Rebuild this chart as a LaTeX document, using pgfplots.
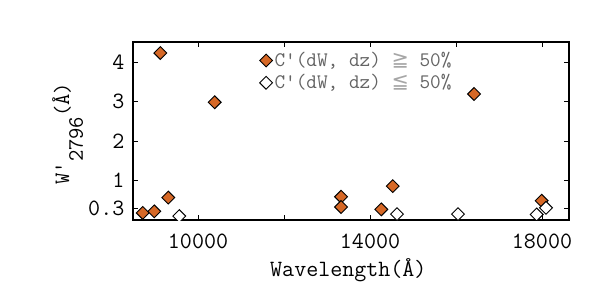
\documentclass[border=0pt]{standalone}
\usepackage{fontspec}
\newfontfamily\dejavu{DejaVu Sans}
\usepackage{pgfplots}
\pgfplotsset{compat=1.18}
\definecolor{orng}{RGB}{214,104,38}
\definecolor{legtext}{RGB}{100,100,100}
\begin{document}
\begin{tikzpicture}
\path[use as bounding box] (0,0) rectangle (456.75pt,228.75pt);
\begin{axis}[
  at={(99.75pt,63.75pt)}, anchor=south west,
  scale only axis, width=327pt, height=133.5pt,
  xmin=8488, xmax=18628, ymin=0, ymax=4.52,
  xtick={10000,14000,18000}, minor xtick={12000,16000},
  ytick={0.3,1,2,3,4},
  yticklabels={0.3,1,2,3,4},
  xticklabels={10000,14000,18000},
  scaled ticks=false,
  tick align=inside, major tick length=4pt, minor tick length=4pt,
  tick style={black, line width=0.6pt},
  axis line style={line width=0.8pt},
  /pgf/number format/assume math mode=true,
  tick label style={font=\ttfamily\fontsize{17.5}{19}\selectfont},
  x tick label style={yshift=-7pt},
  y tick label style={xshift=-3pt},
  xlabel={Wavelength(Å)},
  ylabel={W\textquotesingle\raisebox{-0.62em}{2796}(Å)},
  label style={font=\ttfamily\fontsize{17.5}{19}\selectfont},
  x label style={at={(axis description cs:0.5,0)}, anchor=center, yshift=-37.5pt, xshift=-2pt},
  y label style={at={(axis description cs:0,0.5)}, anchor=center, yshift=49pt, xshift=-2pt, font=\ttfamily\fontsize{16.5}{19}\selectfont},
  clip marker paths=true,
  legend style={draw=none, fill=none, at={(axis description cs:0.29,0.955)}, anchor=north west,
    font=\ttfamily\fontsize{15.5}{17}\selectfont, text=legtext, row sep=1.5pt, inner sep=0pt,
    nodes={inner sep=1.5pt}},
  legend cell align=left,
]
\addplot[only marks, mark=square*, mark size=3.4pt, mark options={rotate=45, fill=orng, draw=black, line width=0.7pt}]
coordinates {
(8714,0.18) (8984,0.22) (9123,4.24) (9309,0.57) (10388,2.99)
(13326,0.59) (13326,0.33) (14263,0.27) (14528,0.86) (16419,3.20) (17993,0.49)
};
\addlegendentry{C\textquotesingle(dW, dz) {\dejavu\color{gray!70}≧} 50\%}
\addplot[only marks, mark=square*, mark size=3.4pt, mark options={rotate=45, fill=white, draw=black, line width=0.7pt}]
coordinates {
(9565,0.10) (14628,0.15) (16047,0.15) (17877,0.14) (18093,0.31)
};
\addlegendentry{C\textquotesingle(dW, dz) {\dejavu\color{gray!70}≦} 50\%}
\end{axis}
\end{tikzpicture}
\end{document}
